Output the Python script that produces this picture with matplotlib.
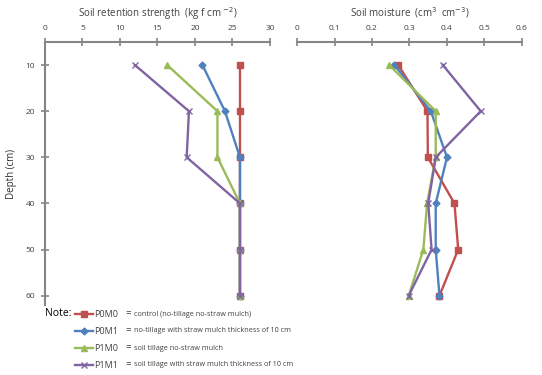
import matplotlib
matplotlib.use("Agg")
from matplotlib import pyplot as plt

plt.rcParams['font.family'] = ['Open Sans', 'DejaVu Sans']

# depths (cm)
depth = [10, 20, 30, 40, 50, 60]

# soil retention strength (kg f cm-2)
srs_p0m0 = [26, 26, 26, 26, 26, 26]
srs_p0m1 = [21, 24, 26, 26, 26, 26]
srs_p1m0 = [16.3, 23, 23, 26, 26, 26]
srs_p1m1 = [12, 19.2, 18.9, 26, 26, 26]

# soil moisture (cm3 cm-3)
sm_p0m0 = [0.27, 0.348, 0.349, 0.42, 0.43, 0.38]
sm_p0m1 = [0.26, 0.357, 0.40, 0.37, 0.37, 0.38]
sm_p1m0 = [0.246, 0.37, 0.37, 0.347, 0.337, 0.298]
sm_p1m1 = [0.389, 0.49, 0.37, 0.35, 0.359, 0.298]

names = ['P0M0', 'P0M1', 'P1M0', 'P1M1']
descriptions = ['control (no-tillage no-straw mulch)',
                'no-tillage with straw mulch thickness of 10 cm',
                'soil tillage no-straw mulch',
                'soil tillage with straw mulch thickness of 10 cm']

colors = ['#C0504D', '#4F81BD', '#9BBB59', '#8064A2']
markers = ['s', 'D', '^', 'x']
msizes = [5, 3.5, 4.5, 5]

axis_col = '#868686'
text_col = '#404040'

fig = plt.figure(figsize=(5.42, 3.75), dpi=100)
ax1 = fig.add_axes([0.083, 0.187, 0.415, 0.701])
ax2 = fig.add_axes([0.548, 0.187, 0.415, 0.701])

handles = []
for ser, c, m, ms in zip([srs_p0m0, srs_p0m1, srs_p1m0, srs_p1m1], colors, markers, msizes):
    h, = ax1.plot(ser, depth, color=c, marker=m, markersize=ms, lw=1.7,
                  markeredgewidth=1.0)
    handles.append(h)
for ser, c, m, ms in zip([sm_p0m0, sm_p0m1, sm_p1m0, sm_p1m1], colors, markers, msizes):
    ax2.plot(ser, depth, color=c, marker=m, markersize=ms, lw=1.7,
             markeredgewidth=1.0)

for ax in (ax1, ax2):
    ax.set_ylim(62, 5)
    ax.xaxis.tick_top()
    ax.xaxis.set_label_position('top')
    for s in ['right', 'bottom']:
        ax.spines[s].set_visible(False)
    ax.spines['top'].set_color(axis_col)
    ax.spines['top'].set_linewidth(1.5)
    ax.spines['left'].set_color(axis_col)
    ax.spines['left'].set_linewidth(1.5)
    ax.tick_params(axis='both', direction='inout', length=6, width=1.2,
                   color=axis_col, labelsize=6, labelcolor=text_col, pad=4)

ax1.set_xlim(0, 30)
ax1.set_xticks([0, 5, 10, 15, 20, 25, 30])
ax1.set_yticks(depth)
ax1.set_ylabel('Depth (cm)', fontsize=7, color='#303030', labelpad=6)
ax1.set_xlabel('Soil retention strength  (kg f cm $^{-2}$)', fontsize=7,
               color=text_col, labelpad=6)

ax2.set_xlim(0, 0.6)
ax2.set_xticks([0, 0.1, 0.2, 0.3, 0.4, 0.5, 0.6])
ax2.set_xticklabels(['0', '0.1', '0.2', '0.3', '0.4', '0.5', '0.6'])
ax2.spines['left'].set_visible(False)
ax2.set_yticks([])
ax2.set_xlabel('Soil moisture  (cm$^{3}$  cm$^{-3}$)', fontsize=7,
               color=text_col, labelpad=6)

# legend / note
fig.text(45 / 542, 1 - 313 / 375, 'Note:', fontsize=7.5, color='black', va='center')
leg = fig.legend(handles, names, loc='upper left',
                 bbox_to_anchor=(75 / 542, 1 - 310 / 375),
                 frameon=False, fontsize=6.5, handlelength=2.0, handletextpad=0.1,
                 labelspacing=0.88, borderaxespad=0, borderpad=0)
for t in leg.get_texts():
    t.set_color(text_col)
row_y = [314, 331, 348, 365]
for y, d in zip(row_y, descriptions):
    fig.text(125 / 542, 1 - y / 375, '=', fontsize=7, color=text_col, va='center')
    fig.text(134 / 542, 1 - y / 375, d, fontsize=5.2, color=text_col, va='center')

fig.savefig('out.png', dpi=100)
